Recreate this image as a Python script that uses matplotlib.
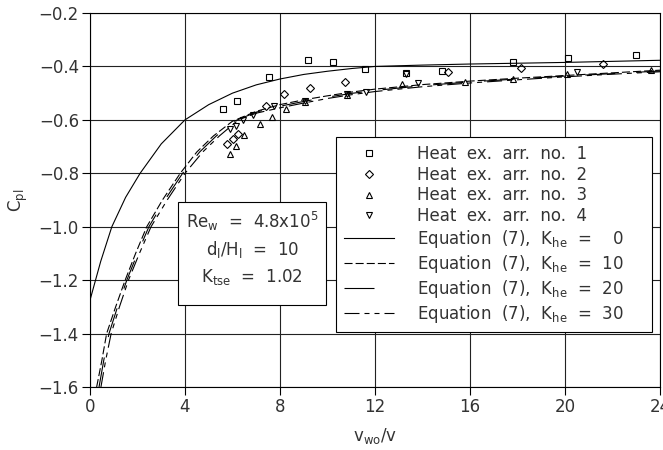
import matplotlib
matplotlib.use("Agg")
import matplotlib.pyplot as plt
from matplotlib.patches import Rectangle
from matplotlib.ticker import FuncFormatter

arr1_x = [5.62, 6.21, 7.52, 9.17, 10.25, 11.57, 13.32, 14.82, 17.79, 20.13, 22.99]
arr1_y = [-0.56, -0.528, -0.44, -0.377, -0.382, -0.409, -0.426, -0.417, -0.385, -0.37, -0.359]

arr2_x = [5.75, 6.03, 6.24, 7.40, 8.18, 9.25, 10.75, 15.07, 18.14, 21.62]
arr2_y = [-0.692, -0.672, -0.654, -0.547, -0.505, -0.48, -0.46, -0.421, -0.405, -0.39]

arr3_x = [5.88, 6.13, 6.50, 7.14, 7.67, 8.24, 9.05, 10.80, 13.13, 15.77, 17.80, 20.08, 23.60]
arr3_y = [-0.728, -0.698, -0.656, -0.615, -0.588, -0.561, -0.535, -0.506, -0.466, -0.458, -0.447, -0.428, -0.413]

arr4_x = [5.88, 6.15, 6.46, 6.86, 7.76, 9.07, 10.80, 11.60, 13.32, 13.83, 20.50]
arr4_y = [-0.636, -0.624, -0.600, -0.582, -0.549, -0.530, -0.505, -0.494, -0.430, -0.461, -0.421]

# equation (7) curves
k0_x = [0, 0.45, 0.92, 1.5, 2.11, 3.0, 4.0, 5.0, 6.0, 7.0, 8.0, 9.0, 10.0, 11.0, 12.0, 14.0, 16.0, 18.0, 20.0, 22.0, 24.0]
k0_y = [-1.275, -1.13, -1.0, -0.89, -0.80, -0.69, -0.60, -0.543, -0.50, -0.469, -0.447, -0.43, -0.418, -0.408,
        -0.40, -0.395, -0.391, -0.388, -0.385, -0.381, -0.377]

k10_x = [0.28, 0.5, 0.7, 1.08, 1.48, 1.92, 2.39, 3.05, 3.8, 4.5, 5.2, 6.0, 7.0, 8.0, 9.0, 10.0, 11.0, 12.0,
         14.0, 16.0, 18.0, 20.0, 22.0, 24.0]
k10_y = [-1.6, -1.5, -1.4, -1.3, -1.2, -1.1, -1.0, -0.9, -0.8, -0.72, -0.66, -0.605, -0.568, -0.543, -0.525,
         -0.51, -0.496, -0.485, -0.468, -0.455, -0.444, -0.434, -0.424, -0.414]

k20_x = [0.38, 0.58, 0.8, 1.16, 1.55, 2.0, 2.48, 3.15, 3.9, 4.62, 5.32, 6.1, 7.0, 8.0, 9.0, 10.0, 11.0, 12.0,
         14.0, 16.0, 18.0, 20.0, 22.0, 24.0]
k20_y = [-1.6, -1.5, -1.4, -1.3, -1.2, -1.1, -1.0, -0.9, -0.8, -0.72, -0.66, -0.604, -0.571, -0.549, -0.531,
         -0.515, -0.501, -0.49, -0.472, -0.458, -0.447, -0.436, -0.427, -0.417]

k30_x = [0.46, 0.66, 0.89, 1.24, 1.62, 2.08, 2.57, 3.25, 4.0, 4.75, 5.45, 6.25, 7.0, 8.0, 9.0, 10.0, 11.0, 12.0,
         14.0, 16.0, 18.0, 20.0, 22.0, 24.0]
k30_y = [-1.6, -1.5, -1.4, -1.3, -1.2, -1.1, -1.0, -0.9, -0.8, -0.72, -0.66, -0.6, -0.575, -0.555, -0.537,
         -0.52, -0.506, -0.494, -0.476, -0.462, -0.45, -0.439, -0.429, -0.42]

plt.rcParams['font.family'] = ['DejaVu Sans']
plt.rcParams['lines.scale_dashes'] = False
txtcol = '#333333'

fig = plt.figure(figsize=(6.63, 4.5), dpi=100)
ax = fig.add_axes([90 / 663, 63 / 450, 570 / 663, 374 / 450])

ax.set_xlim(0, 24)
ax.set_ylim(-1.6, -0.2)
ax.set_xticks([0, 4, 8, 12, 16, 20, 24])
ax.set_yticks([-1.6, -1.4, -1.2, -1.0, -0.8, -0.6, -0.4, -0.2])
ax.yaxis.set_major_formatter(FuncFormatter(lambda v, p: f'{v:.1f}'.replace('-', '\u2212')))
ax.tick_params(direction='out', length=6, width=0.8, labelsize=12, labelcolor=txtcol, pad=2)
ax.grid(True, color='#222222', linewidth=0.8)
ax.set_axisbelow(True)
for s in ax.spines.values():
    s.set_linewidth(0.8)

lw = 0.8
ax.plot(k0_x, k0_y, color='k', lw=lw, label=r'Equation  (7),  K$_\mathregular{he}$  =    0')
ax.plot(k10_x, k10_y, color='k', lw=lw, dashes=(5.8, 2.2), label=r'Equation  (7),  K$_\mathregular{he}$  =  10')
ax.plot(k20_x, k20_y, color='k', lw=lw, dashes=(21.6, 15), label=r'Equation  (7),  K$_\mathregular{he}$  =  20')
ax.plot(k30_x, k30_y, color='k', lw=lw, dashes=(10.8, 3.6, 3.6, 3.6, 3.6, 3.6),
        label=r'Equation  (7),  K$_\mathregular{he}$  =  30')

mk = dict(linestyle='none', mfc='none', mec='k', mew=0.8)
ax.plot(arr1_x, arr1_y, marker='s', ms=5, label='Heat  ex.  arr.  no.  1', **mk)
ax.plot(arr2_x, arr2_y, marker='D', ms=3.8, label='Heat  ex.  arr.  no.  2', **mk)
ax.plot(arr3_x, arr3_y, marker='^', ms=5, label='Heat  ex.  arr.  no.  3', **mk)
ax.plot(arr4_x, arr4_y, marker='v', ms=5, label='Heat  ex.  arr.  no.  4', **mk)

handles, labels = ax.get_legend_handles_labels()
order = [4, 5, 6, 7, 0, 1, 2, 3]
leg = ax.legend([handles[i] for i in order], [labels[i] for i in order],
                loc='upper left', bbox_to_anchor=(0.4316, 0.144, 0.5544, 0.524), mode='expand',
                borderaxespad=0, fancybox=False, edgecolor='k', framealpha=1,
                fontsize=12, handlelength=3.0, handletextpad=1.4, labelspacing=0.17,
                borderpad=0.45, labelcolor=txtcol)
leg.get_frame().set_linewidth(0.8)
leg.set_zorder(5)

# parameter box
ax.add_patch(Rectangle((3.71, -1.292), 6.24, 0.385, facecolor='white', edgecolor='k', lw=0.8, zorder=4))
ax.text(6.83, -0.982, r'Re$_\mathregular{w}$  =  4.8x10$^\mathregular{5}$', ha='center', va='center',
        fontsize=12, color=txtcol, zorder=6)
ax.text(6.83, -1.086, r'd$_\mathregular{l}$/H$_\mathregular{l}$  =  10', ha='center', va='center',
        fontsize=12, color=txtcol, zorder=6)
ax.text(6.83, -1.187, r'K$_\mathregular{tse}$  =  1.02', ha='center', va='center',
        fontsize=12, color=txtcol, zorder=6)

ax.set_xlabel(r'v$_\mathregular{wo}$/v', fontsize=12, color=txtcol)
ax.xaxis.set_label_coords(0.5, -0.105)
ax.set_ylabel(r'C$_\mathregular{pl}$', fontsize=12, color=txtcol)
ax.yaxis.set_label_coords(-0.105, 0.5)

fig.savefig('out.png', dpi=100)
